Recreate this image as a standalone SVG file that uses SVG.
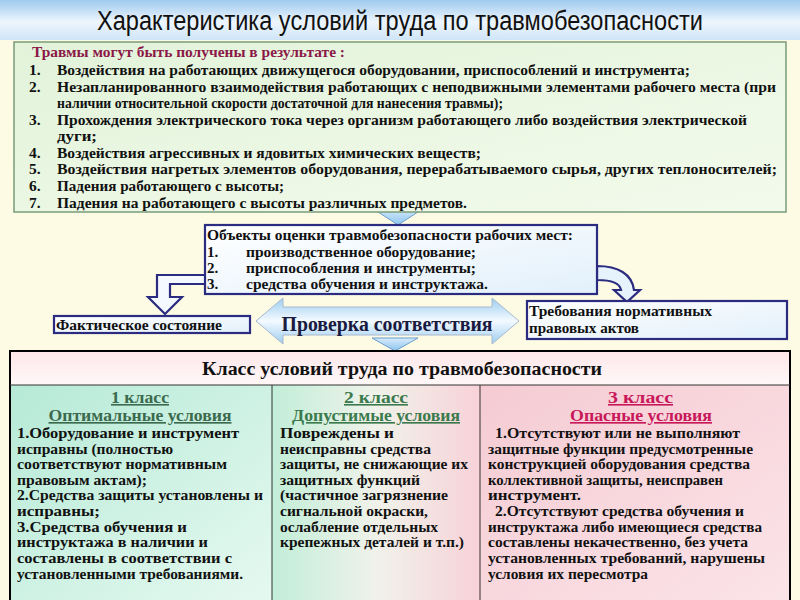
<svg xmlns="http://www.w3.org/2000/svg" width="800" height="600" viewBox="0 0 800 600">
<defs>
<linearGradient id="gTitle" x1="0" y1="0" x2="0" y2="1">
<stop offset="0" stop-color="#9fcaef"/><stop offset="0.55" stop-color="#eef6fd"/><stop offset="1" stop-color="#cfe5f7"/>
</linearGradient>
<linearGradient id="gTop" x1="0" y1="0" x2="1" y2="1">
<stop offset="0" stop-color="#e2f3da"/><stop offset="1" stop-color="#f3fbec"/>
</linearGradient>
<linearGradient id="gObj" x1="0" y1="0" x2="1" y2="1">
<stop offset="0" stop-color="#ffffff"/><stop offset="1" stop-color="#e2f0fb"/>
</linearGradient>
<linearGradient id="gArrow" x1="0" y1="0" x2="0" y2="1">
<stop offset="0" stop-color="#9ccdf0"/><stop offset="0.5" stop-color="#f4faff"/><stop offset="1" stop-color="#9ccdf0"/>
</linearGradient>
<linearGradient id="gDown" x1="0" y1="0" x2="0" y2="1">
<stop offset="0" stop-color="#d8ecfb"/><stop offset="1" stop-color="#8cc4ee"/>
</linearGradient>
<linearGradient id="gHead" x1="0" y1="0" x2="0" y2="1">
<stop offset="0" stop-color="#fde6ea"/><stop offset="1" stop-color="#fff8f8"/>
</linearGradient>
<linearGradient id="gC1" x1="0" y1="0" x2="1" y2="1">
<stop offset="0" stop-color="#b6ead6"/><stop offset="1" stop-color="#e6f9f0"/>
</linearGradient>
<linearGradient id="gC2" x1="0" y1="0" x2="1" y2="0">
<stop offset="0" stop-color="#c2eed8"/><stop offset="0.5" stop-color="#f0f2ea"/><stop offset="1" stop-color="#f8d2d8"/>
</linearGradient>
<linearGradient id="gC3" x1="0" y1="0" x2="1" y2="1">
<stop offset="0" stop-color="#f5cbd3"/><stop offset="1" stop-color="#fbe4e8"/>
</linearGradient>
<style>
.t{font-family:"Liberation Serif","Times New Roman",serif;font-weight:bold;fill:#111;}
.li{font-size:15.5px;}
.ob{font-size:15px;}
.cl{font-size:14.6px;}
.hd{font-size:16px;}
.box{stroke:#2b2b80;stroke-width:2.2;}
</style>
</defs>

<rect x="0" y="0" width="800" height="600" fill="#fdfbe4"/>
<rect x="0" y="0" width="800" height="40" fill="url(#gTitle)"/>
<text x="400" y="30" text-anchor="middle" font-family="Liberation Sans, Arial, sans-serif" font-size="27" fill="#111" textLength="606" lengthAdjust="spacingAndGlyphs">Характеристика условий труда по травмобезопасности</text>

<g id="connectors">
<polygon points="372,208 424,208 398,225" fill="url(#gDown)" stroke="#6a9cd0" stroke-width="1"/>
<path d="M205,275 L157,275 L157,297 L148,297 L165,314 L182,297 L170,297 L170,284 L205,284" fill="#f4f9ff" class="box"/>
<path d="M597,266 C618,266 632,274 634,290 L640,290 L627,302 L614,290 L621,290 C620,284 612,280 597,280 Z" fill="#e6f2fc" class="box"/>
<polygon points="372,338 418,338 395,351" fill="url(#gDown)" stroke="#6a9cd0" stroke-width="1"/>
</g>

<g id="injuries">
<rect x="14" y="42" width="772" height="170" fill="url(#gTop)" stroke="#7a9c7a" stroke-width="1.5"/>
<text x="32" y="57" class="t" font-size="15" style="fill:#8b1848" textLength="313" lengthAdjust="spacingAndGlyphs">Травмы могут быть получены в результате :</text>
<g class="t li">
<text x="29" y="75">1.</text><text x="57" y="75" textLength="633" lengthAdjust="spacingAndGlyphs">Воздействия на работающих движущегося оборудовании, приспособлений и инструмента;</text>
<text x="29" y="92">2.</text><text x="57" y="92" textLength="719" lengthAdjust="spacingAndGlyphs">Незапланированного взаимодействия  работающих с неподвижными элементами рабочего места (при</text>
<text x="57" y="108" textLength="446" lengthAdjust="spacingAndGlyphs">наличии относительной скорости достаточной для нанесения травмы);</text>
<text x="29" y="125">3.</text><text x="57" y="125" textLength="690" lengthAdjust="spacingAndGlyphs">Прохождения электрического тока через организм работающего либо воздействия электрической</text>
<text x="57" y="141" textLength="40" lengthAdjust="spacingAndGlyphs">дуги;</text>
<text x="29" y="158">4.</text><text x="57" y="158" textLength="424" lengthAdjust="spacingAndGlyphs">Воздействия агрессивных и ядовитых химических веществ;</text>
<text x="29" y="174">5.</text><text x="57" y="174" textLength="720" lengthAdjust="spacingAndGlyphs">Воздействия нагретых элементов оборудования, перерабатываемого сырья, других теплоносителей;</text>
<text x="29" y="191">6.</text><text x="57" y="191" textLength="227" lengthAdjust="spacingAndGlyphs">Падения работающего с высоты;</text>
<text x="29" y="208">7.</text><text x="57" y="208" textLength="410" lengthAdjust="spacingAndGlyphs">Падения на работающего с высоты различных предметов.</text>
</g>
</g>

<g id="objects">
<rect x="205" y="225" width="392" height="69" fill="url(#gObj)" class="box"/>
<g class="t ob">
<text x="207" y="240" textLength="366" lengthAdjust="spacingAndGlyphs">Объекты оценки травмобезопасности рабочих мест:</text>
<text x="207" y="257">1.</text><text x="246" y="257" textLength="230" lengthAdjust="spacingAndGlyphs">производственное оборудование;</text>
<text x="207" y="273">2.</text><text x="246" y="273" textLength="230" lengthAdjust="spacingAndGlyphs">приспособления и инструменты;</text>
<text x="207" y="289">3.</text><text x="246" y="289" textLength="242" lengthAdjust="spacingAndGlyphs">средства обучения и инструктажа.</text>
</g>
</g>

<g id="actual">
<rect x="54" y="316" width="196" height="17" fill="url(#gObj)" class="box" stroke-width="1.8"/>
<text x="56" y="330" class="t" font-size="14.5" textLength="166" lengthAdjust="spacingAndGlyphs">Фактическое состояние</text>
</g>

<g id="check">
<path d="M256,321 L283,298 L283,307 L492,307 L492,298 L519,321 L492,344 L492,335 L283,335 L283,344 Z" fill="url(#gArrow)" stroke="#a8b8d0" stroke-width="1"/>
<text x="387" y="331" text-anchor="middle" class="t" font-size="20" style="fill:#1a1a40" textLength="211" lengthAdjust="spacingAndGlyphs">Проверка соответствия</text>
</g>

<g id="requirements">
<rect x="527" y="301" width="260" height="38" fill="url(#gObj)" class="box" stroke-width="1.8"/>
<text x="529" y="316" class="t" font-size="14.5" textLength="183" lengthAdjust="spacingAndGlyphs">Требования нормативных</text>
<text x="529" y="333" class="t" font-size="14.5" textLength="110" lengthAdjust="spacingAndGlyphs">правовых актов</text>
</g>

<g id="class-table">
<rect x="10" y="385" width="262" height="220" fill="url(#gC1)"/>
<rect x="272" y="385" width="208" height="220" fill="url(#gC2)"/>
<rect x="480" y="385" width="310" height="220" fill="url(#gC3)"/>
<rect x="10" y="351" width="780" height="34" fill="url(#gHead)"/>
<rect x="10" y="351" width="780" height="260" fill="none" stroke="#000" stroke-width="2"/>
<line x1="10" y1="385" x2="790" y2="385" stroke="#333" stroke-width="1"/>
<line x1="272" y1="385" x2="272" y2="600" stroke="#333" stroke-width="1"/>
<line x1="480" y1="385" x2="480" y2="600" stroke="#333" stroke-width="1"/>
<text x="402" y="375" text-anchor="middle" class="t" font-size="18.5" textLength="400" lengthAdjust="spacingAndGlyphs">Класс условий труда по травмобезопасности</text>
</g>

<g id="class1">
<text x="140" y="403" text-anchor="middle" class="t hd" style="fill:#3b6a4e" text-decoration="underline" textLength="58" lengthAdjust="spacingAndGlyphs">1 класс</text>
<text x="140" y="421" text-anchor="middle" class="t" font-size="16.5" style="fill:#3b6a4e" text-decoration="underline" textLength="183" lengthAdjust="spacingAndGlyphs">Оптимальные условия</text>
<g class="t cl">
<text x="17" y="438" textLength="222" lengthAdjust="spacingAndGlyphs">1.Оборудование и инструмент</text>
<text x="17" y="454" textLength="156" lengthAdjust="spacingAndGlyphs">исправны (полностью</text>
<text x="17" y="469" textLength="210" lengthAdjust="spacingAndGlyphs">соответствуют нормативным</text>
<text x="17" y="485" textLength="130" lengthAdjust="spacingAndGlyphs">правовым актам);</text>
<text x="17" y="500" textLength="246" lengthAdjust="spacingAndGlyphs">2.Средства защиты установлены и</text>
<text x="17" y="516" textLength="83" lengthAdjust="spacingAndGlyphs">исправны;</text>
<text x="17" y="532" textLength="170" lengthAdjust="spacingAndGlyphs">3.Средства обучения и</text>
<text x="17" y="547" textLength="191" lengthAdjust="spacingAndGlyphs">инструктажа в наличии и</text>
<text x="17" y="563" textLength="215" lengthAdjust="spacingAndGlyphs">составлены в соответствии с</text>
<text x="17" y="579" textLength="226" lengthAdjust="spacingAndGlyphs">установленными требованиями.</text>
</g>
</g>

<g id="class2">
<text x="344" y="403" class="t hd" style="fill:#3b7a4c" text-decoration="underline" textLength="64" lengthAdjust="spacingAndGlyphs">2 класс </text>
<text x="376" y="421" text-anchor="middle" class="t" font-size="16.5" style="fill:#3b7a4c" text-decoration="underline" textLength="168" lengthAdjust="spacingAndGlyphs">Допустимые условия</text>
<g class="t cl">
<text x="280" y="438" textLength="114" lengthAdjust="spacingAndGlyphs">Повреждены и</text>
<text x="280" y="454" textLength="151" lengthAdjust="spacingAndGlyphs">неисправны средства</text>
<text x="280" y="469" textLength="188" lengthAdjust="spacingAndGlyphs">защиты, не снижающие их</text>
<text x="280" y="485" textLength="140" lengthAdjust="spacingAndGlyphs">защитных функций</text>
<text x="280" y="500" textLength="168" lengthAdjust="spacingAndGlyphs">(частичное загрязнение</text>
<text x="280" y="516" textLength="148" lengthAdjust="spacingAndGlyphs">сигнальной окраски,</text>
<text x="280" y="532" textLength="158" lengthAdjust="spacingAndGlyphs">ослабление отдельных</text>
<text x="280" y="547" textLength="184" lengthAdjust="spacingAndGlyphs">крепежных деталей и т.п.)</text>
</g>
</g>

<g id="class3">
<text x="608" y="403" class="t hd" style="fill:#c8185a" text-decoration="underline" textLength="65" lengthAdjust="spacingAndGlyphs">3 класс </text>
<text x="641" y="421" text-anchor="middle" class="t" font-size="16.5" style="fill:#c8185a" text-decoration="underline" textLength="142" lengthAdjust="spacingAndGlyphs">Опасные условия</text>
<g class="t cl">
<text x="495" y="438" textLength="245" lengthAdjust="spacingAndGlyphs">1.Отсутствуют или не выполняют</text>
<text x="488" y="454" textLength="265" lengthAdjust="spacingAndGlyphs">защитные функции предусмотренные</text>
<text x="488" y="469" textLength="262" lengthAdjust="spacingAndGlyphs">конструкцией оборудования средства</text>
<text x="488" y="485" textLength="235" lengthAdjust="spacingAndGlyphs">коллективной защиты, неисправен</text>
<text x="488" y="500" textLength="93" lengthAdjust="spacingAndGlyphs">инструмент.</text>
<text x="495" y="516" textLength="249" lengthAdjust="spacingAndGlyphs">2.Отсутствуют средства обучения и</text>
<text x="488" y="532" textLength="274" lengthAdjust="spacingAndGlyphs">инструктажа либо имеющиеся средства</text>
<text x="488" y="547" textLength="260" lengthAdjust="spacingAndGlyphs">составлены некачественно, без учета</text>
<text x="488" y="563" textLength="277" lengthAdjust="spacingAndGlyphs">установленных  требований, нарушены</text>
<text x="488" y="579" textLength="160" lengthAdjust="spacingAndGlyphs">условия их пересмотра</text>
</g>
</g>
</svg>
